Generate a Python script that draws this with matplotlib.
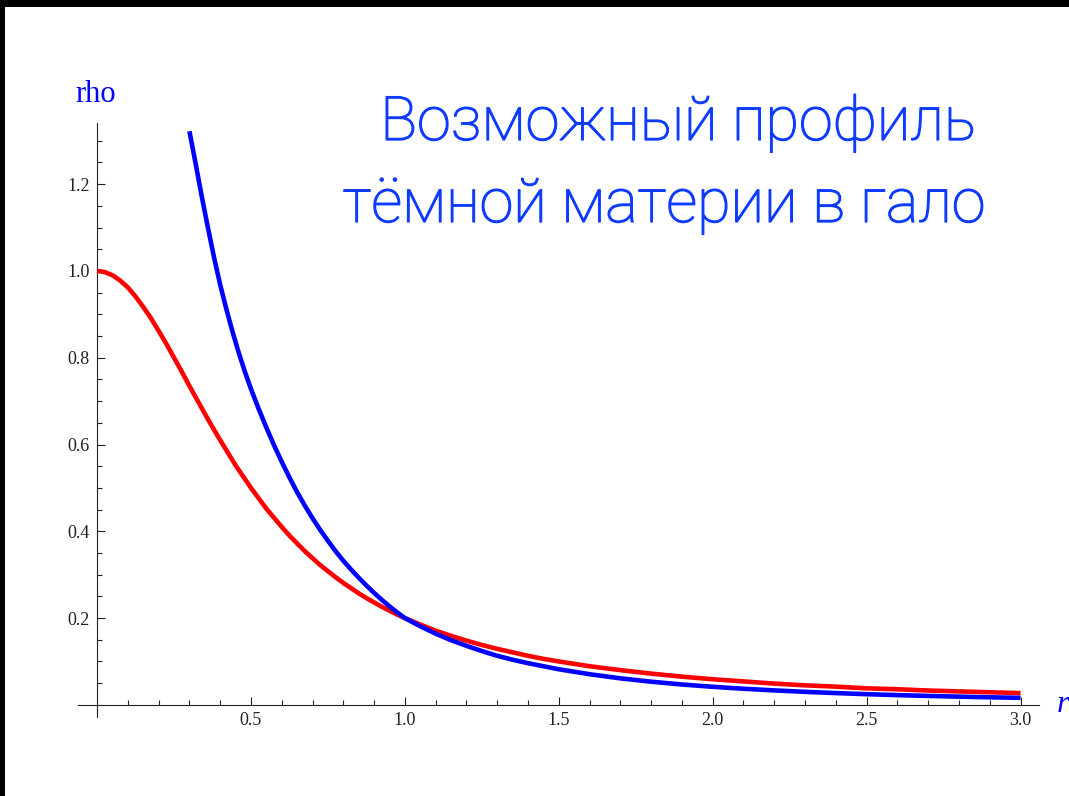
import matplotlib
matplotlib.use("Agg")
import matplotlib.pyplot as plt
from matplotlib.patches import Rectangle
import matplotlib.patheffects as pe

# ---- data ----
r_red = [0.0, 0.025, 0.05, 0.075, 0.10, 0.125, 0.15, 0.175, 0.20, 0.225, 0.25, 0.275,
         0.30, 0.325, 0.35, 0.375, 0.40, 0.425, 0.45, 0.475, 0.50, 0.525, 0.55, 0.575,
         0.60, 0.625, 0.65, 0.675, 0.70, 0.725, 0.75, 0.775, 0.80, 0.825, 0.85, 0.875,
         0.90, 0.925, 0.95, 0.975, 1.00, 1.05, 1.10, 1.15, 1.20, 1.25, 1.30, 1.35, 1.40,
         1.45, 1.50, 1.60, 1.70, 1.80, 1.90, 2.00, 2.10, 2.20, 2.30, 2.40, 2.50, 2.60,
         2.70, 2.80, 2.90, 3.00]
rho_red = [1.000, 0.9975, 0.990, 0.978, 0.962, 0.941, 0.917, 0.891, 0.862, 0.832, 0.800,
           0.768, 0.735, 0.703, 0.671, 0.640, 0.610, 0.581, 0.552, 0.526, 0.500, 0.476,
           0.452, 0.431, 0.410, 0.390, 0.372, 0.354, 0.338, 0.322, 0.308, 0.294, 0.281,
           0.269, 0.257, 0.246, 0.236, 0.226, 0.217, 0.208, 0.200, 0.185, 0.171, 0.159,
           0.148, 0.138, 0.129, 0.121, 0.113, 0.106, 0.100, 0.089, 0.080, 0.072, 0.065,
           0.059, 0.054, 0.049, 0.045, 0.042, 0.038, 0.036, 0.033, 0.031, 0.029, 0.027]

r_blue = [0.30, 0.32, 0.34, 0.36, 0.38, 0.40, 0.42, 0.44, 0.46, 0.48, 0.50, 0.525, 0.55,
          0.575, 0.60, 0.625, 0.65, 0.675, 0.70, 0.725, 0.75, 0.775, 0.80, 0.825, 0.85,
          0.875, 0.90, 0.925, 0.95, 0.975, 1.00, 1.05, 1.10, 1.15, 1.20, 1.25, 1.30, 1.35,
          1.40, 1.45, 1.50, 1.60, 1.70, 1.80, 1.90, 2.00, 2.10, 2.20, 2.30, 2.40, 2.50,
          2.60, 2.70, 2.80, 2.90, 3.00]
rho_blue = [1.322, 1.248, 1.172, 1.100, 1.031, 0.968, 0.912, 0.860, 0.812, 0.768, 0.728,
            0.682, 0.639, 0.598, 0.560, 0.524, 0.490, 0.459, 0.430, 0.403, 0.378, 0.354,
            0.332, 0.312, 0.293, 0.275, 0.258, 0.242, 0.227, 0.213, 0.200, 0.181, 0.164,
            0.149, 0.136, 0.124, 0.113, 0.104, 0.096, 0.089, 0.082, 0.0706, 0.0611, 0.0534,
            0.0469, 0.0416, 0.0371, 0.0333, 0.0300, 0.0271, 0.0246, 0.0224, 0.0206,
            0.0189, 0.0174, 0.0161]

x_major = [0.5, 1.0, 1.5, 2.0, 2.5, 3.0]
x_major_labels = ["0.5", "1.0", "1.5", "2.0", "2.5", "3.0"]
y_major = [0.2, 0.4, 0.6, 0.8, 1.0, 1.2]
y_major_labels = ["0.2", "0.4", "0.6", "0.8", "1.0", "1.2"]
x_minor = [i / 10 for i in range(1, 31)]
y_minor = [i / 20 for i in range(1, 27)]

title_line1 = "Возможный профиль"
title_line2 = "тёмной материи в гало"
y_name = "rho"
x_name = "r"

W, H = 1069, 796
fig = plt.figure(figsize=(W / 100, H / 100), dpi=100)
fig.patch.set_facecolor("white")

# axes box in pixels: left 78, right 1039, top 123, bottom 717
ax = fig.add_axes([78 / W, (H - 717) / H, (1039 - 78) / W, (717 - 123) / H])
ax.set_xlim(-0.062, 3.06)
ax.set_ylim(-0.028, 1.341)
ax.patch.set_alpha(0)

for s in ["top", "right"]:
    ax.spines[s].set_visible(False)
ax.spines["left"].set_position(("data", 0))
ax.spines["bottom"].set_position(("data", 0))
for s in ["left", "bottom"]:
    ax.spines[s].set_color("#222222")
    ax.spines[s].set_linewidth(0.8)

ax.plot(r_red, rho_red, color="#ff0000", lw=3.3, solid_capstyle="butt",
        solid_joinstyle="round", zorder=3)
ax.plot(r_blue, rho_blue, color="#0000ff", lw=3.3, solid_capstyle="butt",
        solid_joinstyle="round", zorder=4)

ax.set_xticks(x_major)
ax.set_xticklabels(x_major_labels)
ax.set_yticks(y_major)
ax.set_yticklabels(y_major_labels)
ax.set_xticks([v for v in x_minor if all(abs(v - m) > 1e-6 for m in x_major)], minor=True)
ax.set_yticks([v for v in y_minor if all(abs(v - m) > 1e-6 for m in y_major)], minor=True)

ax.tick_params(which="both", direction="in", color="#222222", width=0.8)
ax.tick_params(which="major", length=6)
ax.tick_params(which="minor", length=3.8)
ax.tick_params(axis="x", which="major", pad=5)
ax.tick_params(axis="y", which="major", pad=5.5)
for lab in ax.get_xticklabels() + ax.get_yticklabels():
    lab.set_fontfamily("Liberation Serif")
    lab.set_fontsize(13)
    lab.set_color("#222222")

# axis names
fig.text(75 / W, 1 - 102 / H, y_name, color="#0000ff", fontsize=22,
         family="Liberation Serif", ha="left", va="baseline")
fig.text(1057 / W, 1 - 712 / H, x_name, color="#0000ff", fontsize=23,
         family="Liberation Serif", style="italic", ha="left", va="baseline")

# title
title_color = "#0d3bff"
effects = [pe.withStroke(linewidth=0.9, foreground=title_color)]
fig.text(678 / W, 1 - 140 / H, title_line1, color=title_color, fontsize=44,
         family="Roboto", fontweight="light", ha="center", va="baseline",
         path_effects=effects)
fig.text(664 / W, 1 - 222 / H, title_line2, color=title_color, fontsize=44,
         family="Roboto", fontweight="light", ha="center", va="baseline",
         path_effects=effects)

# black frame edges
fig.patches.append(Rectangle((0, 1 - 7 / H), 1, 7 / H, transform=fig.transFigure,
                             facecolor="black", edgecolor="none", zorder=10))
fig.patches.append(Rectangle((0, 0), 5 / W, 1, transform=fig.transFigure,
                             facecolor="black", edgecolor="none", zorder=10))

fig.savefig("out.png", dpi=100)
